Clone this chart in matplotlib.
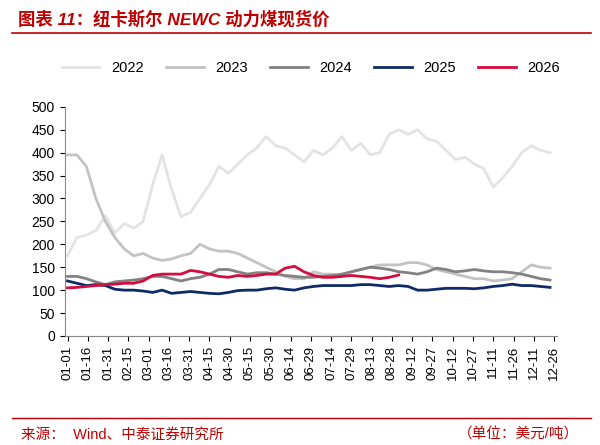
import matplotlib
matplotlib.use("Agg")
import matplotlib.pyplot as plt
import numpy as np

plt.rcParams['font.family'] = ['Liberation Sans', 'Noto Sans CJK SC', 'DejaVu Sans']

tick_labels = ["01-01","01-16","01-31","02-15","03-01","03-16","03-31","04-15","04-30","05-15","05-30","06-14","06-29","07-14","07-29","08-13","08-28","09-12","09-27","10-12","10-27","11-11","11-26","12-11","12-26"]
s2022 = [175,215,220,230,262,225,245,235,250,330,395,320,260,270,300,330,370,355,375,395,410,435,415,410,395,380,405,395,410,435,405,420,395,400,440,450,440,450,430,425,405,385,390,375,365,325,345,370,400,415,405,400]
s2023 = [395,395,370,300,250,215,190,175,180,170,165,168,175,180,200,190,185,185,180,170,160,150,140,130,125,125,140,135,135,130,140,145,150,155,155,155,160,160,155,145,140,135,130,125,125,120,122,125,140,155,150,148]
s2024 = [130,130,125,118,112,118,120,122,125,130,130,125,120,125,128,135,145,145,140,135,138,138,135,132,130,128,128,130,132,135,140,145,150,148,145,140,138,135,140,148,145,140,142,145,142,140,140,138,135,130,125,122]
s2025 = [120,115,110,112,110,102,100,100,98,95,100,93,95,97,95,93,92,95,99,100,100,103,105,102,100,105,108,110,110,110,110,112,112,110,108,110,108,100,100,102,104,104,104,103,105,108,110,113,110,110,108,106]
s2026 = [105,106,108,110,112,113,115,115,120,132,135,135,135,143,140,135,130,128,132,130,132,135,135,148,152,140,132,128,128,130,132,130,128,125,128,133]

fig = plt.figure(figsize=(6, 4.45), dpi=100)
ax = fig.add_axes([0.108, 0.245, 0.82, 0.515])
series = [("2022", s2022, "#e3e3e3"), ("2023", s2023, "#c3c3c3"), ("2024", s2024, "#828282"),
          ("2025", s2025, "#0e2b68"), ("2026", s2026, "#d40c3f")]
for name, s, c in series:
    ax.plot(np.arange(len(s)) * 7, s, color=c, lw=2, label=name)
ax.set_ylim(0, 500)
ax.set_yticks(range(0, 501, 50))
ax.set_xlim(-2, 362)
ax.set_xticks(np.arange(len(tick_labels)) * 15)
ax.set_xticklabels(tick_labels, rotation=90, fontsize=9.5)
ax.tick_params(axis='y', labelsize=10)
for sp in ['top', 'right']:
    ax.spines[sp].set_visible(False)
for sp in ['left', 'bottom']:
    ax.spines[sp].set_color('#888888')
ax.legend(loc='lower center', bbox_to_anchor=(0.5, 1.08), ncol=5, frameon=False, fontsize=10.5, handlelength=2.6, columnspacing=1.5)

fig.text(0.03, 0.945, "图表 11：纽卡斯尔 NEWC 动力煤现货价", color="#c00000", fontsize=12.5, fontweight='bold', style='italic')
fig.add_artist(plt.Line2D([0.02, 0.985], [0.925, 0.925], color="#c00000", lw=1.2))
fig.add_artist(plt.Line2D([0.02, 0.985], [0.06, 0.06], color="#c00000", lw=1.0))
fig.text(0.035, 0.015, "来源：  Wind、中泰证券研究所", color="#c00000", fontsize=10.5)
fig.text(0.965, 0.015, "（单位：美元/吨）", color="#c00000", fontsize=10.5, ha='right')
fig.savefig("out.png", dpi=100)
